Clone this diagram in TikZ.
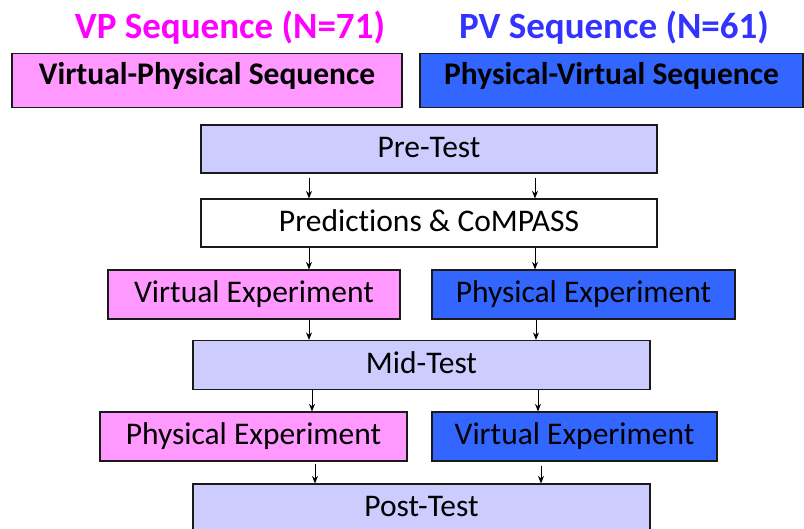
\documentclass[tikz,border=0pt]{standalone}
\usepackage{fontspec}
\setmainfont{Carlito}[Ligatures=NoCommon]
\usetikzlibrary{arrows.meta,calc}
\definecolor{pinkfill}{HTML}{FF99FF}
\definecolor{bluefill}{HTML}{3366FF}
\definecolor{lavfill}{HTML}{CCCCFF}
\definecolor{vptitle}{HTML}{FF00FF}
\definecolor{pvtitle}{HTML}{3333FF}
\definecolor{edge}{HTML}{1A1A1A}
\tikzset{
  box/.style={draw=edge, line width=1.2pt, inner sep=0pt, text height=20.3pt, text depth=3.5pt,
    font=\fontsize{31.5}{36}\selectfont},
  headbox/.style={box, text depth=11.3pt, font=\fontsize{31.5}{36}\selectfont\bfseries},
  title/.style={inner sep=0pt, anchor=base, font=\fontsize{37}{42}\selectfont\bfseries},
  arr/.style={draw=black, line width=0.9pt, -{Stealth[length=7.5pt,width=6pt]}}
}
\begin{document}
\begin{tikzpicture}[x=1pt,y=-1pt]
\useasboundingbox (0,0) rectangle (804,529);
\clip (0,0) rectangle (804,529);
\fill[white] (0,0) rectangle (804,529);
% titles
\node[title, text=vptitle] (tvp) at (230,38.5) {VP Sequence (N=71)};
\node[title, text=pvtitle] (tpv) at (614,38.5) {PV Sequence (N=61)};
% header boxes
\node[headbox, fill=pinkfill, minimum width=390pt, minimum height=54pt] (hvp) at (207,80.5) {Virtual-Physical Sequence};
\node[headbox, fill=bluefill, minimum width=383pt, minimum height=54pt] (hpv) at (611.5,80.5) {Physical-Virtual Sequence};
% flow boxes
\node[box, fill=lavfill, minimum width=456pt, minimum height=48pt] (pre) at (429,149) {Pre-Test};
\node[box, fill=white, minimum width=456pt, minimum height=48pt] (pred) at (429,223) {Predictions \& CoMPASS};
\node[box, fill=pinkfill, minimum width=292pt, minimum height=49pt] (ve1) at (254,294.5) {Virtual Experiment};
\node[box, fill=bluefill, minimum width=303pt, minimum height=49pt] (pe1) at (583.5,294.5) {Physical Experiment};
\node[box, fill=lavfill, minimum width=457pt, minimum height=49pt] (mid) at (421.5,365) {Mid-Test};
\node[box, fill=pinkfill, minimum width=307pt, minimum height=49pt] (pe2) at (253.5,436.5) {Physical Experiment};
\node[box, fill=bluefill, minimum width=285pt, minimum height=49pt] (ve2) at (574.5,436.5) {Virtual Experiment};
\node[box, fill=lavfill, minimum width=457pt, minimum height=49pt] (post) at (421.5,508.5) {Post-Test};
% arrow columns
\coordinate (a1) at (309,0);
\coordinate (b1) at (535,0);
\coordinate (a3) at (309,0);
\coordinate (b3) at (536,0);
\coordinate (a4) at (312,0);
\coordinate (b4) at (538,0);
\coordinate (a5) at (315,0);
\coordinate (b5) at (541,0);
\draw[arr] ($(pre.south -| a1)+(0,4)$) -- (pred.north -| a1);
\draw[arr] ($(pre.south -| b1)+(0,4)$) -- (pred.north -| b1);
\draw[arr] (pred.south -| a1) -- (ve1.north -| a1);
\draw[arr] (pred.south -| b1) -- (pe1.north -| b1);
\draw[arr] (ve1.south -| a3) -- (mid.north -| a3);
\draw[arr] (pe1.south -| b3) -- (mid.north -| b3);
\draw[arr] (mid.south -| a4) -- (pe2.north -| a4);
\draw[arr] (mid.south -| b4) -- (ve2.north -| b4);
\draw[arr] ($(pe2.south -| a5)+(0,2)$) -- (post.north -| a5);
\draw[arr] ($(ve2.south -| b5)+(0,4)$) -- (post.north -| b5);
\end{tikzpicture}
\end{document}
